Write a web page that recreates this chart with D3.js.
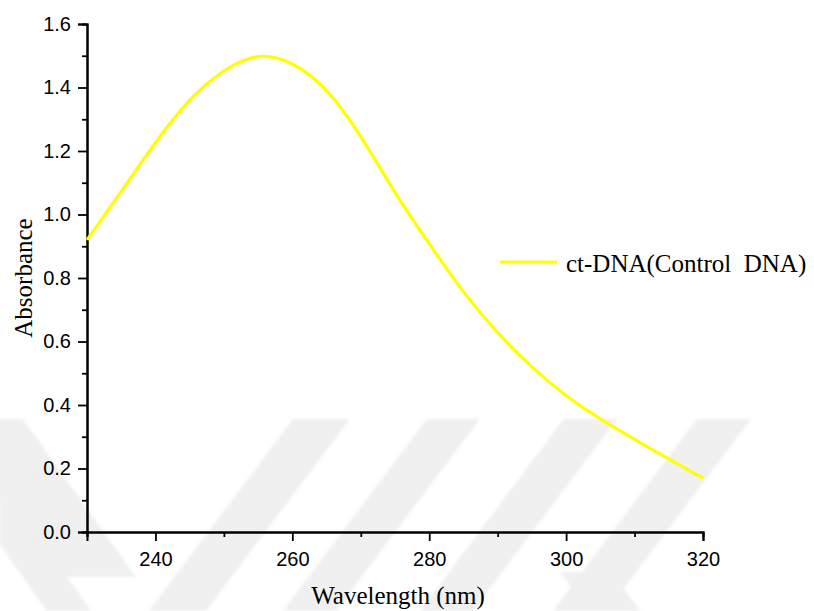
<!DOCTYPE html>
<html>
<head>
<meta charset="utf-8">
<script src="https://cdn.jsdelivr.net/npm/d3@7"></script>
<style>
  html, body { margin: 0; padding: 0; background: #ffffff; }
  svg { display: block; }
</style>
</head>
<body>
<script>
// ---- data ----
const wavelength = [230, 235, 240, 245, 250, 255, 260, 265, 270, 275, 280, 285, 290, 295, 300, 305, 310, 315, 320];
const absorbance = [0.92, 1.073, 1.226, 1.36, 1.452, 1.497, 1.474, 1.39, 1.245, 1.07, 0.908, 0.757, 0.628, 0.52, 0.43, 0.356, 0.292, 0.23, 0.17];
const xMajorTicks = [240, 260, 280, 300, 320];
const xMinorTicks = [230, 250, 270, 290, 310];
const yMajorTicks = [0.0, 0.2, 0.4, 0.6, 0.8, 1.0, 1.2, 1.4, 1.6];
const yMinorTicks = [0.1, 0.3, 0.5, 0.7, 0.9, 1.1, 1.3, 1.5];
const seriesName = "ct-DNA(Control  DNA)";
const xTitle = "Wavelength (nm)";
const yTitle = "Absorbance";

const W = 814, H = 611;
const svg = d3.select("body").append("svg").attr("width", W).attr("height", H);

// ---- faint background watermark (decoration) ----
const defs = svg.append("defs");
defs.append("filter").attr("id", "soft").append("feGaussianBlur").attr("stdDeviation", 1.5);
const wm = svg.append("g").attr("fill", "#f0f0f0").attr("filter", "url(#soft)");
const bands = [
  [[-60,419],[23,419],[136,577],[53,577]],
  [[0,483],[91,611],[47,611],[0,545]],
  [[293,419],[350,419],[206,611],[149,611]],
  [[427,419],[480,419],[336,611],[283,611]],
  [[564,419],[617,419],[473,611],[420,611]],
  [[697,419],[751,419],[607,611],[553,611]],
  [[560,572],[612,572],[640,611],[588,611]]
];
bands.forEach(p => wm.append("polygon").attr("points", p.map(d => d.join(",")).join(" ")));

// ---- scales ----
const x = d3.scaleLinear().domain([230, 320]).range([87, 703]);
const y = d3.scaleLinear().domain([0, 1.6]).range([532, 24]);

const tickFont = "'Liberation Sans', Arial, sans-serif";
const serifFont = "'Liberation Serif', 'Times New Roman', serif";

// ---- axes ----
const xAxisMinor = d3.axisBottom(x).tickValues(xMinorTicks).tickSize(5).tickFormat("");
const xAxisMajor = d3.axisBottom(x).tickValues(xMajorTicks).tickSize(9).tickPadding(11).tickFormat(d3.format("d"));
const yAxisMinor = d3.axisLeft(y).tickValues(yMinorTicks).tickSize(5).tickFormat("");
const yAxisMajor = d3.axisLeft(y).tickValues(yMajorTicks).tickSize(9).tickPadding(7).tickFormat(d3.format(".1f"));

function styleAxis(g) {
  g.selectAll(".domain").attr("stroke", "#000").attr("stroke-width", 2);
  g.selectAll(".tick line").attr("stroke", "#000").attr("stroke-width", 1.8);
  g.selectAll(".tick text").attr("fill", "#000").style("font-family", tickFont).style("font-size", "20px");
}

svg.append("g").attr("transform", `translate(0,${y(0)})`).call(xAxisMinor).call(styleAxis);
svg.append("g").attr("transform", `translate(0,${y(0)})`).call(xAxisMajor).call(styleAxis);
svg.append("g").attr("transform", `translate(${x(230)},0)`).call(yAxisMinor).call(styleAxis);
svg.append("g").attr("transform", `translate(${x(230)},0)`).call(yAxisMajor).call(styleAxis);

// ---- curve ----
const pts = wavelength.map((w, i) => [w, absorbance[i]]);
const line = d3.line().x(d => x(d[0])).y(d => y(d[1])).curve(d3.curveNatural);
svg.append("path").datum(pts)
  .attr("d", line)
  .attr("fill", "none")
  .attr("stroke", "#ffff00")
  .attr("stroke-width", 3.2)
  .attr("stroke-linejoin", "round");

// ---- titles ----
svg.append("text")
  .attr("x", 398).attr("y", 604)
  .attr("text-anchor", "middle")
  .style("font-family", serifFont).style("font-size", "25px")
  .text(xTitle);

svg.append("text")
  .attr("transform", `translate(32,${278}) rotate(-90)`)
  .attr("text-anchor", "middle")
  .style("font-family", serifFont).style("font-size", "25px")
  .text(yTitle);

// ---- legend ----
const lg = svg.append("g");
lg.append("line").attr("x1", 500).attr("x2", 557).attr("y1", 262).attr("y2", 262)
  .attr("stroke", "#ffff00").attr("stroke-width", 3.2);
lg.append("text").attr("x", 566).attr("y", 272)
  .attr("xml:space", "preserve").style("white-space", "pre")
  .style("font-family", serifFont).style("font-size", "25px")
  .text(seriesName);
</script>
</body>
</html>
